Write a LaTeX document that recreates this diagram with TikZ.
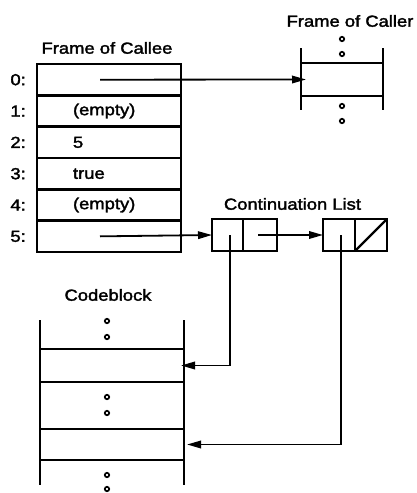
\documentclass[tikz,border=0pt]{standalone}
\usepackage{fontspec}
\setmainfont{Liberation Sans}[FakeStretch=1.15,FakeBold=2]
\usetikzlibrary{arrows.meta,positioning}

\tikzset{
  slot/.style={draw,line width=2.4pt,outer sep=0pt,inner ysep=0pt,
    minimum width=144pt,minimum height=31.33pt,
    inner xsep=36pt,text width=72pt,align=left},
  idx/.style={inner sep=0pt},
  cell/.style={draw,line width=2.4pt,outer sep=0pt,inner sep=0pt,minimum height=32pt},
  frame/.style={line width=2.4pt},
  ring/.style={line width=1.7pt},
  ptr/.style={line width=1.8pt,-{Triangle[length=14pt,width=7.5pt]}},
}

\begin{document}
\begin{tikzpicture}[x=1pt,y=-1pt,font=\fontsize{16}{19}\selectfont]
  \useasboundingbox (0,0) rectangle (417,493);

  % frame of callee
  \node[slot] (r0) at (109,79.7) {};
  \node[slot,below=0pt of r0] (r1) {(empty)};
  \node[slot,below=0pt of r1] (r2) {5};
  \node[slot,below=0pt of r2] (r3) {true};
  \node[slot,below=0pt of r3] (r4) {(empty)};
  \node[slot,below=0pt of r4] (r5) {};
  \node[idx,left=11pt of r0] (i0) {0:};
  \node[idx,left=11pt of r1] (i1) {1:};
  \node[idx,left=11pt of r2] (i2) {2:};
  \node[idx,left=11pt of r3] (i3) {3:};
  \node[idx,left=11pt of r4] (i4) {4:};
  \node[idx,left=11pt of r5] (i5) {5:};
  \node[idx,above=10pt of r0,xshift=-2pt] (callee) {Frame of Callee};

  % frame of caller
  \node[minimum width=82pt,minimum height=33pt,outer sep=0pt] (caller) at (342,79.5) {};
  \draw[frame] (301,48) -- (301,110);
  \draw[frame] (383,48) -- (383,110);
  \draw[frame] (caller.north west) -- (caller.north east);
  \draw[frame] (caller.south west) -- (caller.south east);
  \node[idx] (callertitle) at (350,21) {Frame of Caller};
  \draw[ring] (342,39) circle (2.2pt);
  \draw[ring] (342,54) circle (2.2pt);
  \draw[ring] (342,106) circle (2.2pt);
  \draw[ring] (342,121) circle (2.2pt);

  % continuation list
  \node[cell,minimum width=31pt] (c1a) at (227.5,235) {};
  \node[cell,minimum width=34pt,right=0pt of c1a] (c1b) {};
  \node[cell,minimum width=32pt,right=46pt of c1b] (c2a) {};
  \node[cell,minimum width=32pt,right=0pt of c2a] (c2b) {};
  \draw[frame] (c2b.south west) -- (c2b.north east);
  \node[idx] (conttitle) at (292.5,204) {Continuation List};

  % codeblock
  \node[minimum width=144pt,minimum height=33pt,outer sep=0pt] (cbA) at (112,365.5) {};
  \node[minimum width=144pt,minimum height=31pt,outer sep=0pt] (cbB) at (112,444.5) {};
  \draw[frame] (40,320) -- (40,485);
  \draw[frame] (184,320) -- (184,485);
  \draw[frame] (cbA.north west) -- (cbA.north east);
  \draw[frame] (cbA.south west) -- (cbA.south east);
  \draw[frame] (cbB.north west) -- (cbB.north east);
  \draw[frame] (cbB.south west) -- (cbB.south east);
  \node[idx] (codetitle) at (108,295) {Codeblock};
  \draw[ring] (107,321) circle (2.2pt);
  \draw[ring] (107,337) circle (2.2pt);
  \draw[ring] (107,397) circle (2.2pt);
  \draw[ring] (107,413) circle (2.2pt);
  \draw[ring] (107,475) circle (2.2pt);
  \draw[ring] (107,489) circle (2.2pt);

  % pointers
  \draw[ptr] ([xshift=-9pt]r0.center) -- ([xshift=5pt]caller.west);
  \draw[ptr] ([xshift=-9pt]r5.center) -- (c1a.west);
  \draw[ptr] ([xshift=-2pt]c1b.center) -- (c2a.west);
  \draw[ptr] ([xshift=2.5pt]c1a.center) |- ([xshift=-3pt]cbA.east);
  \draw[ptr] ([xshift=2pt]c2a.center) |- ([xshift=3pt]cbB.east);
\end{tikzpicture}
\end{document}
